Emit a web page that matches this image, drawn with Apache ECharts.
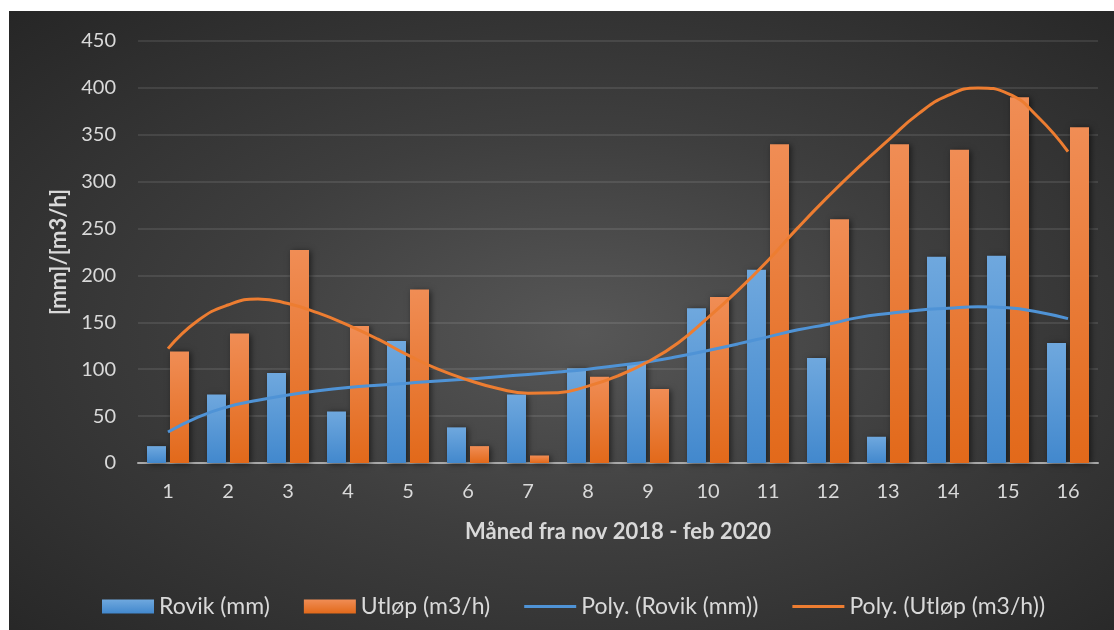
<!DOCTYPE html>
<html>
<head>
<meta charset="utf-8">
<script src="https://cdn.jsdelivr.net/npm/echarts@6/dist/echarts.min.js"></script>
<style>
  html, body { margin: 0; padding: 0; background: #ffffff; width: 1114px; height: 630px; overflow: hidden; }
  #chart {
    position: absolute; left: 9px; top: 11px; width: 1105px; height: 619px;
    background: radial-gradient(ellipse farthest-corner at 52% 52%, #575757 0%, #3e3e3e 45%, #262626 100%);
  }
</style>
</head>
<body>
<div id="chart"></div>
<script>
// Months counted from Nov 2018 to Feb 2020
const months = ['1','2','3','4','5','6','7','8','9','10','11','12','13','14','15','16'];
// Monthly precipitation at Rovik (mm)
const rovik = [18, 73, 96, 55, 130, 38, 73, 101, 106, 165, 206, 112, 28, 220, 221, 128];
// Outflow (m3/h)
const utlop = [119, 138, 227, 146, 185, 18, 8, 92, 79, 177, 340, 260, 340, 334, 390, 358];

// Polynomial trend lines, sampled every half month
const trendX = [1, 1.5, 2, 2.5, 3, 3.5, 4, 4.5, 5, 5.5, 6, 6.5, 7, 7.5, 8, 8.5,
                9, 9.5, 10, 10.5, 11, 11.5, 12, 12.5, 13, 13.5, 14, 14.5, 15, 15.5, 16];
const polyRovik = [33, 49, 60, 67, 72.5, 77, 80.5, 83, 85, 87.5, 89.5, 92, 94.5, 97, 100, 104,
                   108, 113.5, 120, 127, 134.5, 142, 148, 155, 159.5, 163, 165, 166.5, 165.5, 161, 154];
const polyUtlop = [122, 152, 168.5, 175, 170, 160, 147, 132, 115, 100, 88.5, 79.5, 74.5, 75, 82, 93,
                   108, 128, 155, 184, 216, 251, 284, 315, 344, 372, 392, 400, 394, 369, 332];

// Value axis ticks
const yTicks = { min: 0, max: 450, step: 50 };

const FONT = 'Lato';
const TXT = '#d9d9d9';
const BLUE_LINE = '#4f93d6';
const ORANGE_LINE = '#ed7d31';

const chart = echarts.init(document.getElementById('chart'), null, { renderer: 'canvas' });

function vGrad(top, bottom) {
  return new echarts.graphic.LinearGradient(0, 0, 0, 1, [
    { offset: 0, color: top }, { offset: 1, color: bottom }
  ]);
}

function pairs(xs, ys) {
  return xs.map((x, i) => [x, ys[i]]);
}

const barShadow = { shadowBlur: 6, shadowColor: 'rgba(0,0,0,0.55)', shadowOffsetX: 2, shadowOffsetY: 1 };
// thin horizontal stroke used as legend key for the trend lines
const lineIcon = 'path://M0,0L52,0L52,3.2L0,3.2Z';

chart.setOption({
  backgroundColor: 'transparent',
  animation: false,
  textStyle: { fontFamily: FONT },
  grid: { left: 129, right: 16, top: 30, bottom: 167 },
  legend: {
    left: 88, top: 579,
    itemWidth: 52, itemHeight: 14, itemGap: 34,
    textStyle: { color: TXT, fontSize: 23, fontFamily: FONT },
    data: [
      { name: 'Rovik (mm)', icon: 'rect' },
      { name: 'Utløp (m3/h)', icon: 'rect' },
      { name: 'Poly. (Rovik (mm))', icon: lineIcon, itemStyle: { color: BLUE_LINE } },
      { name: 'Poly. (Utløp (m3/h))', icon: lineIcon, itemStyle: { color: ORANGE_LINE } }
    ]
  },
  xAxis: [
    {
      type: 'category',
      data: months,
      name: 'Måned fra nov 2018 - feb 2020',
      nameLocation: 'middle',
      nameGap: 58,
      nameTextStyle: { color: TXT, fontSize: 22, fontWeight: 'bold', fontFamily: FONT },
      axisLine: { lineStyle: { color: '#a9a9a9', width: 2 } },
      axisTick: { show: false },
      axisLabel: { color: TXT, fontSize: 20, margin: 19, fontFamily: FONT }
    },
    {
      // continuous month scale for the trend curves, aligned with category centres
      type: 'value', min: 0.5, max: 16.5, show: false
    }
  ],
  yAxis: {
    type: 'value',
    min: yTicks.min, max: yTicks.max, interval: yTicks.step,
    name: '[mm]/[m3/h]',
    nameLocation: 'middle',
    nameGap: 64,
    nameRotate: 90,
    nameTextStyle: { color: TXT, fontSize: 22, fontWeight: 'bold', fontFamily: FONT },
    axisLine: { show: false },
    axisTick: { show: false },
    axisLabel: { color: TXT, fontSize: 20, margin: 22, fontFamily: FONT },
    splitLine: { lineStyle: { color: 'rgba(255,255,255,0.13)', width: 1.5 } }
  },
  series: [
    {
      name: 'Rovik (mm)', type: 'bar', data: rovik,
      barWidth: 19, barGap: '21%',
      itemStyle: Object.assign({ color: vGrad('#6fa8de', '#4288cd') }, barShadow)
    },
    {
      name: 'Utløp (m3/h)', type: 'bar', data: utlop,
      barWidth: 19, barGap: '21%',
      itemStyle: Object.assign({ color: vGrad('#f08d55', '#e2691a') }, barShadow)
    },
    {
      name: 'Poly. (Rovik (mm))', type: 'line', xAxisIndex: 1,
      data: pairs(trendX, polyRovik),
      smooth: true, symbol: 'none', z: 5,
      lineStyle: { color: BLUE_LINE, width: 3 },
      itemStyle: { color: BLUE_LINE }
    },
    {
      name: 'Poly. (Utløp (m3/h))', type: 'line', xAxisIndex: 1,
      data: pairs(trendX, polyUtlop),
      smooth: true, symbol: 'none', z: 5,
      lineStyle: { color: ORANGE_LINE, width: 3 },
      itemStyle: { color: ORANGE_LINE }
    }
  ]
});
</script>
</body>
</html>
